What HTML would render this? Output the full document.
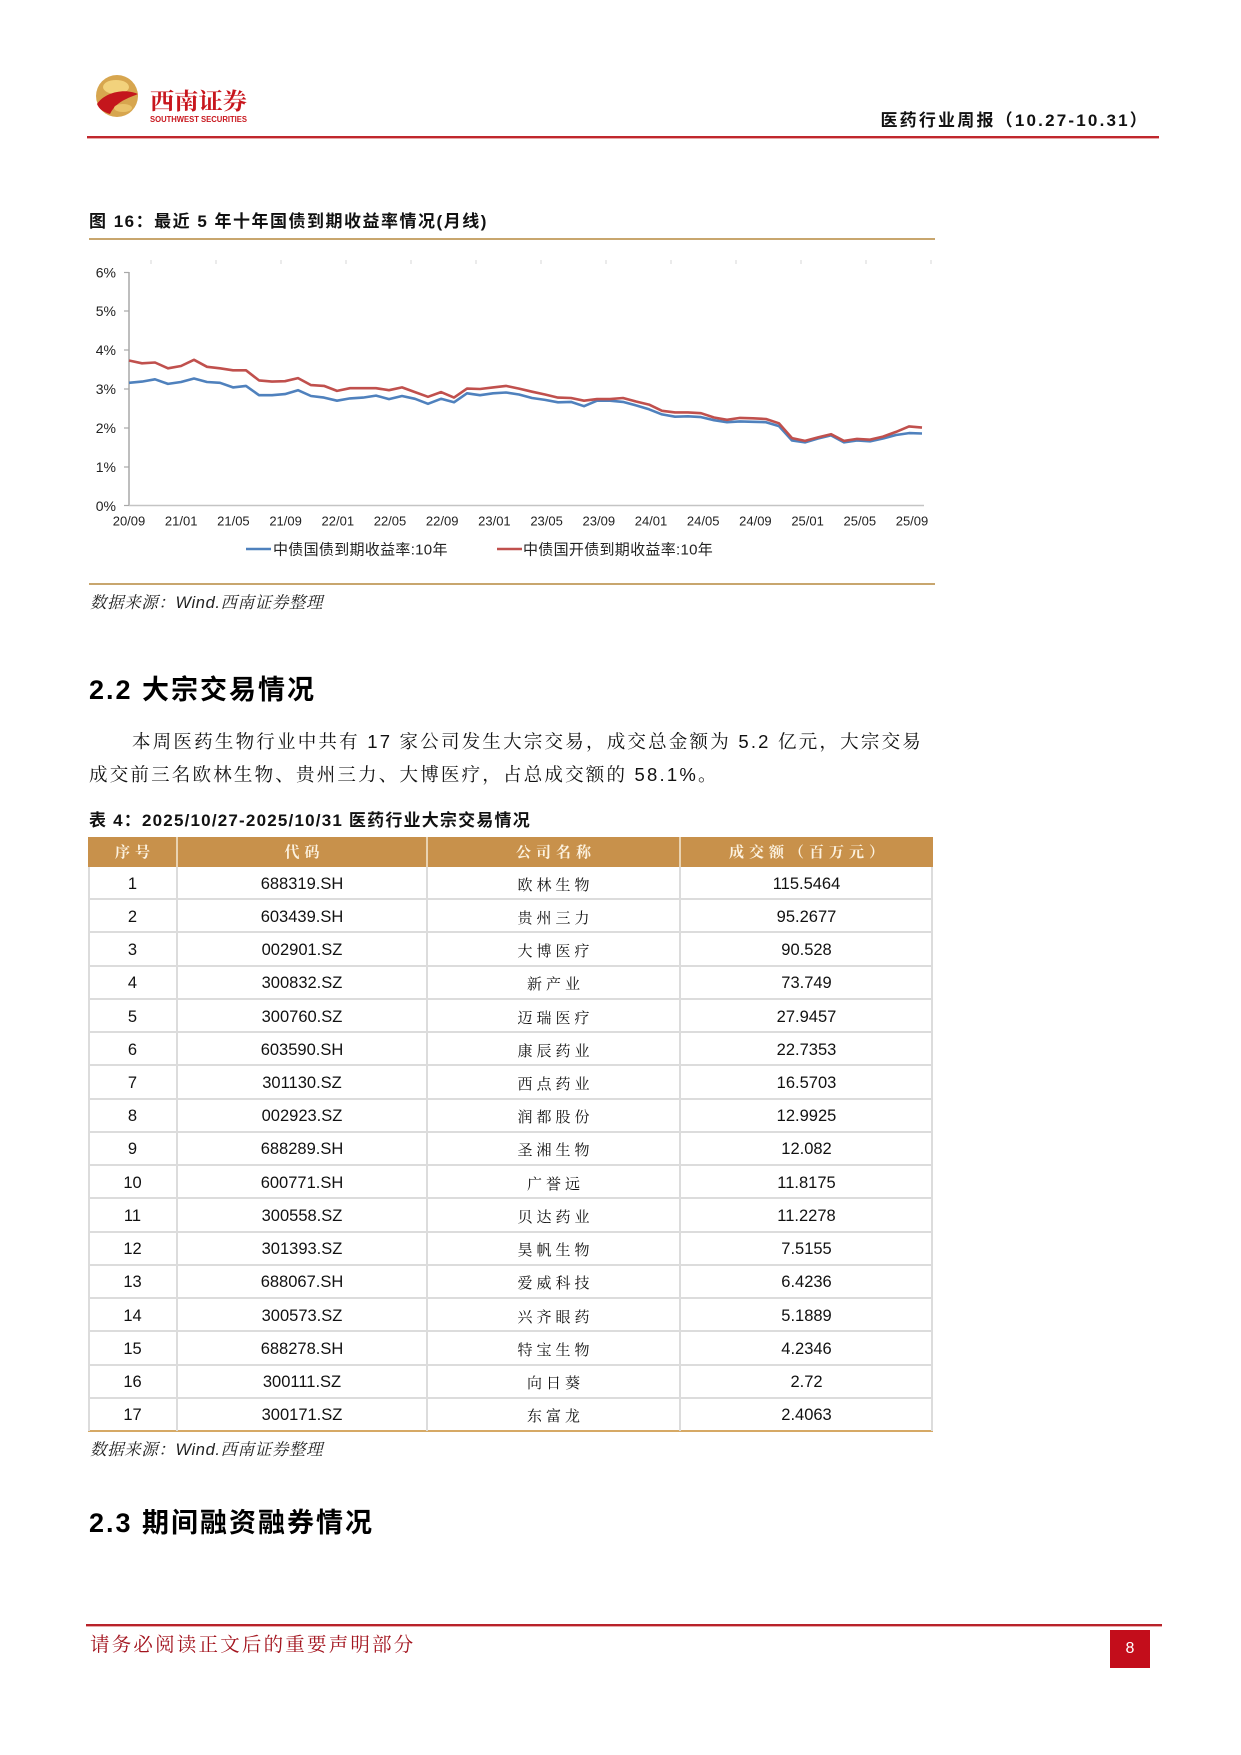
<!DOCTYPE html>
<html>
<head>
<meta charset="utf-8">
<style>
  html,body{margin:0;padding:0;background:#fff;}
  body{width:1241px;height:1755px;position:relative;overflow:hidden;}
  .abs{position:absolute;white-space:nowrap;}
  .sans{font-family:"Liberation Sans","Noto Sans CJK SC",sans-serif;}
  .serif{font-family:"Liberation Sans","Noto Serif CJK SC",serif;}
  .hline{position:absolute;}
  .src{font-family:"Liberation Sans","Noto Serif CJK SC",serif;font-style:italic;font-size:16.5px;letter-spacing:0.6px;color:#222;}
  #tbl{position:absolute;left:88px;top:837px;width:845px;height:596px;}
  #tbl .hd{position:absolute;left:0;top:0;width:845px;height:30px;background:#C8914B;}
  #tbl .hc{position:absolute;top:0;height:30px;line-height:30px;text-align:center;color:#FCF2E0;font-family:"Noto Serif CJK SC","Noto Sans CJK SC",serif;font-weight:700;font-size:15px;letter-spacing:5px;text-indent:5px;}
  #tbl .hv{position:absolute;top:0;width:2px;height:30px;background:#E9D3B2;}
  #tbl .row{position:absolute;left:0;width:845px;height:33.235px;box-sizing:border-box;padding-top:3px;border-bottom:2px solid #DCDCDC;display:flex;align-items:center;}
  #tbl .row div{text-align:center;font-family:"Liberation Sans",sans-serif;font-size:16.5px;color:#111;}
  #tbl .row .c1{width:89px;}
  #tbl .row .c2{width:250px;}
  #tbl .row .c3{width:253px;font-family:"Noto Serif CJK SC","Noto Sans CJK SC",serif;font-size:15px;letter-spacing:4px;text-indent:4px;}
  #tbl .row .c4{width:253px;}
  #tbl .row.last{border-bottom:2px solid #D6A965;}
  #tbl .vl{position:absolute;top:30px;width:2px;height:564px;background:#DCDCDC;}
</style>
</head>
<body>

<!-- Logo -->
<svg class="abs" style="left:85px;top:70px" width="180" height="70" viewBox="0 0 180 70">
  <circle cx="32" cy="26" r="21" fill="#D7A64F"/>
  <ellipse cx="31" cy="17" rx="13" ry="7" fill="#F2D27C"/>
  <path d="M12 34 C 20 22, 40 18, 53 24 C 44 28, 31 31, 25 44 C 18 42, 14 39, 12 34 Z" fill="#C4161C"/>
  <ellipse cx="38" cy="38" rx="9" ry="4" fill="#EFCB72" opacity="0.8"/>
  <text x="65" y="39" font-family="Noto Serif CJK SC, serif" font-weight="700" font-size="23" fill="#C8161D" textLength="97" lengthAdjust="spacingAndGlyphs">西南证券</text>
  <text x="65" y="52" font-family="Liberation Sans, sans-serif" font-weight="700" font-size="8" fill="#C8161D" textLength="97" lengthAdjust="spacingAndGlyphs">SOUTHWEST SECURITIES</text>
</svg>

<!-- Header title -->
<div class="abs sans" style="right:92px;top:109px;height:24px;line-height:24px;font-size:17px;font-weight:700;letter-spacing:2.2px;color:#111;">医药行业周报（10.27-10.31）</div>
<div class="hline" style="left:87px;top:136px;width:1072px;height:2px;background:#C0272D;"></div>
<div class="hline" style="left:87px;top:138px;width:1072px;height:1px;background:#E9A7A7;"></div>

<!-- Figure title -->
<div class="abs sans" style="left:89px;top:209px;height:26px;line-height:26px;font-size:17px;font-weight:700;letter-spacing:1.5px;color:#111;">图 16：最近 5 年十年国债到期收益率情况(月线)</div>
<div class="hline" style="left:89px;top:238px;width:846px;height:2px;background:#C8A66E;"></div>

<!-- Chart -->
<svg class="abs" style="left:0;top:0" width="1241" height="620" viewBox="0 0 1241 620">
  <g stroke="#E4E4E4" stroke-width="1.5">
    <line x1="151" y1="260" x2="151" y2="264"/><line x1="216" y1="260" x2="216" y2="264"/>
    <line x1="281" y1="260" x2="281" y2="264"/><line x1="346" y1="260" x2="346" y2="264"/>
    <line x1="411" y1="260" x2="411" y2="264"/><line x1="476" y1="260" x2="476" y2="264"/>
    <line x1="541" y1="260" x2="541" y2="264"/><line x1="606" y1="260" x2="606" y2="264"/>
    <line x1="671" y1="260" x2="671" y2="264"/><line x1="736" y1="260" x2="736" y2="264"/>
    <line x1="801" y1="260" x2="801" y2="264"/><line x1="866" y1="260" x2="866" y2="264"/>
    <line x1="931" y1="260" x2="931" y2="264"/>
  </g>
  <line x1="129" y1="272" x2="129" y2="506" stroke="#A8A8A8" stroke-width="1.5"/>
  <line x1="129" y1="505.5" x2="924" y2="505.5" stroke="#C4C4C4" stroke-width="1.5"/>
  <g stroke="#A8A8A8" stroke-width="1.2">
    <line x1="124" y1="272.5" x2="129" y2="272.5"/><line x1="124" y1="311" x2="129" y2="311"/>
    <line x1="124" y1="350" x2="129" y2="350"/><line x1="124" y1="389" x2="129" y2="389"/>
    <line x1="124" y1="428" x2="129" y2="428"/><line x1="124" y1="467" x2="129" y2="467"/>
    <line x1="124" y1="505.5" x2="129" y2="505.5"/>
  </g>
  <g font-family="Liberation Sans, sans-serif" font-size="14" fill="#222" text-anchor="end">
    <text x="116" y="277.5">6%</text><text x="116" y="316">5%</text>
    <text x="116" y="355">4%</text><text x="116" y="394">3%</text>
    <text x="116" y="433">2%</text><text x="116" y="472">1%</text>
    <text x="116" y="511">0%</text>
  </g>
  <g font-family="Liberation Sans, sans-serif" font-size="13" fill="#222" text-anchor="middle">
    <text x="129" y="525.5">20/09</text><text x="181.2" y="525.5">21/01</text>
    <text x="233.4" y="525.5">21/05</text><text x="285.6" y="525.5">21/09</text>
    <text x="337.8" y="525.5">22/01</text><text x="390" y="525.5">22/05</text>
    <text x="442.2" y="525.5">22/09</text><text x="494.4" y="525.5">23/01</text>
    <text x="546.6" y="525.5">23/05</text><text x="598.8" y="525.5">23/09</text>
    <text x="651" y="525.5">24/01</text><text x="703.2" y="525.5">24/05</text>
    <text x="755.4" y="525.5">24/09</text><text x="807.6" y="525.5">25/01</text>
    <text x="859.8" y="525.5">25/05</text><text x="912" y="525.5">25/09</text>
  </g>
  <polyline fill="none" stroke="#4F81BD" stroke-width="2.6" stroke-linejoin="round" points="129,382.8 142,381.6 155,379.3 168,383.9 181,382.0 194,378.5 207,382.0 220,382.8 233,387.4 246,385.9 259,395.2 272,395.2 285,394.1 298,390.2 311,396.0 324,397.6 337,400.7 350,398.4 363,397.6 376,395.6 389,399.1 402,396.0 415,398.8 428,403.8 441,398.8 454,402.3 467,393.3 480,395.2 493,393.3 506,392.5 519,394.5 532,398.0 545,399.9 558,402.3 571,401.9 584,406.2 597,400.7 610,400.7 623,401.9 636,405.4 649,409.3 662,414.4 675,416.7 688,416.3 701,417.1 714,420.2 727,422.2 740,421.4 753,421.8 766,422.2 779,426.1 792,440.5 805,442.4 818,438.5 831,435.4 844,442.4 857,440.5 870,441.3 883,438.5 896,435.0 909,433.1 922,433.5"/>
  <polyline fill="none" stroke="#C0504D" stroke-width="2.6" stroke-linejoin="round" points="129,360.5 142,363.3 155,362.5 168,368.3 181,366.0 194,359.8 207,366.8 220,368.3 233,370.3 246,370.3 259,380.4 272,381.6 285,381.2 298,378.1 311,385.1 324,385.9 337,390.9 350,388.2 363,388.2 376,388.2 389,390.2 402,387.4 415,392.1 428,396.8 441,392.1 454,397.6 467,388.6 480,389.0 493,387.4 506,385.9 519,388.6 532,391.7 545,394.5 558,397.6 571,398.0 584,400.7 597,399.1 610,399.1 623,398.0 636,401.5 649,404.6 662,410.8 675,412.4 688,412.4 701,413.2 714,417.5 727,419.8 740,417.9 753,418.3 766,419.0 779,423.3 792,438.1 805,440.9 818,437.4 831,434.2 844,440.9 857,438.9 870,439.7 883,436.6 896,431.9 909,426.4 922,427.6"/>
  <line x1="246" y1="549" x2="271" y2="549" stroke="#4F81BD" stroke-width="2.6"/>
  <line x1="497" y1="549" x2="522" y2="549" stroke="#C0504D" stroke-width="2.6"/>
  <g font-family="Liberation Sans, Noto Sans CJK SC, sans-serif" font-size="15" fill="#222">
    <text x="273" y="554.5" letter-spacing="0.3">中债国债到期收益率:10年</text>
    <text x="523" y="554.5" letter-spacing="0.3">中债国开债到期收益率:10年</text>
  </g>
</svg>

<div class="hline" style="left:89px;top:583px;width:846px;height:2px;background:#C8A66E;"></div>
<div class="abs src" style="left:90px;top:591px;height:24px;line-height:24px;">数据来源：Wind.西南证券整理</div>

<!-- Section 2.2 -->
<div class="abs sans" style="left:89px;top:670px;height:40px;line-height:40px;font-size:27px;font-weight:700;letter-spacing:2px;color:#000;">2.2 大宗交易情况</div>

<div class="abs serif" style="left:89px;top:729px;width:834px;height:26px;line-height:26px;font-size:18.5px;letter-spacing:2.2px;color:#111;white-space:normal;text-indent:43px;text-align:justify;text-align-last:justify;">本周医药生物行业中共有 17 家公司发生大宗交易，成交总金额为 5.2 亿元，大宗交易</div>
<div class="abs serif" style="left:89px;top:762px;height:26px;line-height:26px;font-size:18.5px;letter-spacing:2.2px;color:#111;">成交前三名欧林生物、贵州三力、大博医疗，占总成交额的 58.1%。</div>

<div class="abs sans" style="left:89px;top:809px;height:24px;line-height:24px;font-size:17px;font-weight:700;letter-spacing:1.2px;color:#111;">表 4：2025/10/27-2025/10/31 医药行业大宗交易情况</div>

<!-- Table -->
<div id="tbl">
  <div class="hd"></div>
  <div class="hc" style="left:0;width:89px;">序号</div>
  <div class="hc" style="left:89px;width:250px;">代码</div>
  <div class="hc" style="left:339px;width:253px;">公司名称</div>
  <div class="hc" style="left:592px;width:253px;">成交额（百万元）</div>
  <div class="hv" style="left:88px;"></div>
  <div class="hv" style="left:338px;"></div>
  <div class="hv" style="left:591px;"></div>

  <div class="row" style="top:30px;"><div class="c1">1</div><div class="c2">688319.SH</div><div class="c3">欧林生物</div><div class="c4">115.5464</div></div>
  <div class="row" style="top:63.235px;"><div class="c1">2</div><div class="c2">603439.SH</div><div class="c3">贵州三力</div><div class="c4">95.2677</div></div>
  <div class="row" style="top:96.47px;"><div class="c1">3</div><div class="c2">002901.SZ</div><div class="c3">大博医疗</div><div class="c4">90.528</div></div>
  <div class="row" style="top:129.705px;"><div class="c1">4</div><div class="c2">300832.SZ</div><div class="c3">新产业</div><div class="c4">73.749</div></div>
  <div class="row" style="top:162.94px;"><div class="c1">5</div><div class="c2">300760.SZ</div><div class="c3">迈瑞医疗</div><div class="c4">27.9457</div></div>
  <div class="row" style="top:196.175px;"><div class="c1">6</div><div class="c2">603590.SH</div><div class="c3">康辰药业</div><div class="c4">22.7353</div></div>
  <div class="row" style="top:229.41px;"><div class="c1">7</div><div class="c2">301130.SZ</div><div class="c3">西点药业</div><div class="c4">16.5703</div></div>
  <div class="row" style="top:262.645px;"><div class="c1">8</div><div class="c2">002923.SZ</div><div class="c3">润都股份</div><div class="c4">12.9925</div></div>
  <div class="row" style="top:295.88px;"><div class="c1">9</div><div class="c2">688289.SH</div><div class="c3">圣湘生物</div><div class="c4">12.082</div></div>
  <div class="row" style="top:329.115px;"><div class="c1">10</div><div class="c2">600771.SH</div><div class="c3">广誉远</div><div class="c4">11.8175</div></div>
  <div class="row" style="top:362.35px;"><div class="c1">11</div><div class="c2">300558.SZ</div><div class="c3">贝达药业</div><div class="c4">11.2278</div></div>
  <div class="row" style="top:395.585px;"><div class="c1">12</div><div class="c2">301393.SZ</div><div class="c3">昊帆生物</div><div class="c4">7.5155</div></div>
  <div class="row" style="top:428.82px;"><div class="c1">13</div><div class="c2">688067.SH</div><div class="c3">爱威科技</div><div class="c4">6.4236</div></div>
  <div class="row" style="top:462.055px;"><div class="c1">14</div><div class="c2">300573.SZ</div><div class="c3">兴齐眼药</div><div class="c4">5.1889</div></div>
  <div class="row" style="top:495.29px;"><div class="c1">15</div><div class="c2">688278.SH</div><div class="c3">特宝生物</div><div class="c4">4.2346</div></div>
  <div class="row" style="top:528.525px;"><div class="c1">16</div><div class="c2">300111.SZ</div><div class="c3">向日葵</div><div class="c4">2.72</div></div>
  <div class="row last" style="top:561.76px;"><div class="c1">17</div><div class="c2">300171.SZ</div><div class="c3">东富龙</div><div class="c4">2.4063</div></div>

  <div class="vl" style="left:0;"></div>
  <div class="vl" style="left:88px;"></div>
  <div class="vl" style="left:338px;"></div>
  <div class="vl" style="left:591px;"></div>
  <div class="vl" style="left:843px;"></div>
</div>

<div class="abs src" style="left:90px;top:1438px;height:24px;line-height:24px;">数据来源：Wind.西南证券整理</div>

<!-- Section 2.3 -->
<div class="abs sans" style="left:89px;top:1503px;height:40px;line-height:40px;font-size:27px;font-weight:700;letter-spacing:2px;color:#000;">2.3 期间融资融券情况</div>

<!-- Footer -->
<div class="hline" style="left:86px;top:1624px;width:1076px;height:2px;background:#B8222A;"></div>
<div class="hline" style="left:86px;top:1626px;width:1076px;height:1px;background:#E8A9A9;"></div>
<div class="abs" style="left:90px;top:1630px;height:26px;line-height:26px;font-family:'Noto Serif CJK SC',serif;font-size:19.5px;letter-spacing:2.2px;color:#A3151F;">请务必阅读正文后的重要声明部分</div>
<div class="abs" style="left:1110px;top:1630px;width:40px;height:38px;background:#C30D1B;color:#fff;font-family:'Liberation Sans',sans-serif;font-size:16px;line-height:38px;text-align:center;">8</div>

</body>
</html>
